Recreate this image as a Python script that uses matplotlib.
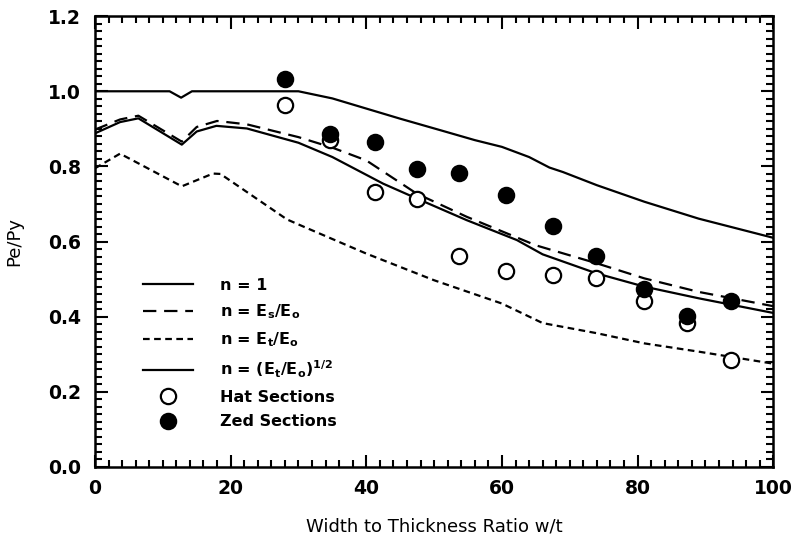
import numpy as np
import matplotlib
matplotlib.use("Agg")
import matplotlib.pyplot as plt
from matplotlib.ticker import MultipleLocator

# n = 1
x_n1 = [0, 11, 12.7, 14.3, 30, 35, 40, 45, 51, 56, 60, 64, 67, 69, 74, 81, 89, 100]
y_n1 = [1.0, 1.0, 0.983, 1.0, 1.0, 0.981, 0.954, 0.927, 0.896, 0.870, 0.852, 0.825, 0.797, 0.785, 0.750, 0.706, 0.661, 0.610]

# n = Es/Eo
x_es = [0, 3.7, 6.4, 12.8, 15, 18, 22.4, 30, 35, 40, 47.4, 54.8, 65, 74, 81, 89, 100]
y_es = [0.898, 0.925, 0.935, 0.866, 0.905, 0.921, 0.912, 0.878, 0.850, 0.816, 0.728, 0.666, 0.590, 0.542, 0.502, 0.466, 0.428]

# n = Et/Eo
x_et = [0, 3.7, 12.8, 17.4, 18.5, 28.3, 30.2, 40, 50, 60, 66, 74, 81, 89, 100]
y_et = [0.795, 0.834, 0.747, 0.781, 0.780, 0.659, 0.644, 0.568, 0.497, 0.435, 0.383, 0.356, 0.329, 0.307, 0.275]

# n = (Et/Eo)^1/2
x_sq = [0, 3.7, 6.4, 12.8, 15, 17.9, 22.4, 30, 35, 42.5, 47.4, 54.8, 62.2, 66, 74, 81, 89, 100]
y_sq = [0.888, 0.918, 0.928, 0.858, 0.893, 0.908, 0.901, 0.863, 0.825, 0.754, 0.715, 0.657, 0.604, 0.566, 0.515, 0.480, 0.449, 0.410]

wt = [28, 34.7, 41.3, 47.5, 53.7, 60.6, 67.5, 73.8, 80.9, 87.3, 93.7]
hat = [0.963, 0.871, 0.732, 0.712, 0.562, 0.522, 0.511, 0.503, 0.442, 0.384, 0.285]
zed = [1.034, 0.886, 0.865, 0.794, 0.783, 0.723, 0.641, 0.561, 0.475, 0.402, 0.442]

fig = plt.figure(figsize=(7.98, 5.38), dpi=100)
ax = fig.add_axes([0.119, 0.132, 0.850, 0.838])

lw = 1.6
ax.plot(x_n1, y_n1, "-", color="black", lw=lw, label="n = 1")
ax.plot(x_es, y_es, color="black", lw=lw, dashes=(6, 3.5),
        label=r"n = E$_\mathregular{s}$/E$_\mathregular{o}$")
ax.plot(x_et, y_et, color="black", lw=lw, dashes=(3, 2),
        label=r"n = E$_\mathregular{t}$/E$_\mathregular{o}$")
ax.plot(x_sq, y_sq, "-", color="black", lw=lw,
        label=r"n = (E$_\mathregular{t}$/E$_\mathregular{o}$)$^\mathregular{1/2}$")
ax.plot(wt, hat, "o", ms=11, mfc="white", mec="black", mew=1.6, ls="none",
        label="Hat Sections")
ax.plot(wt, zed, "o", ms=11, mfc="black", mec="black", mew=1.6, ls="none",
        label="Zed Sections")

ax.set_xlim(0, 100)
ax.set_ylim(0, 1.2)
ax.xaxis.set_major_locator(MultipleLocator(20))
ax.xaxis.set_minor_locator(MultipleLocator(2))
ax.yaxis.set_major_locator(MultipleLocator(0.2))
ax.yaxis.set_minor_locator(MultipleLocator(0.02))
ax.yaxis.set_major_formatter(matplotlib.ticker.FormatStrFormatter("%.1f"))
ax.tick_params(which="both", direction="in", top=True, right=True, width=1.5)
ax.tick_params(which="major", length=9, labelsize=13.5)
ax.tick_params(axis="x", which="major", pad=9)
ax.tick_params(axis="y", which="major", pad=10)
ax.tick_params(which="minor", length=5)
for lbl in ax.get_xticklabels() + ax.get_yticklabels():
    lbl.set_fontweight("bold")
for s in ax.spines.values():
    s.set_linewidth(1.8)

ax.set_xlabel("Width to Thickness Ratio w/t", fontsize=13, labelpad=14)
ax.set_ylabel("Pe/Py", fontsize=13, labelpad=18)

leg = ax.legend(loc="upper left", bbox_to_anchor=(0.071, 0.42), frameon=False,
                borderpad=0, borderaxespad=0, handlelength=3.1, handletextpad=1.7,
                labelspacing=0.6, prop={"size": 11.5, "weight": "bold"})

fig.savefig("out.png", dpi=100)
